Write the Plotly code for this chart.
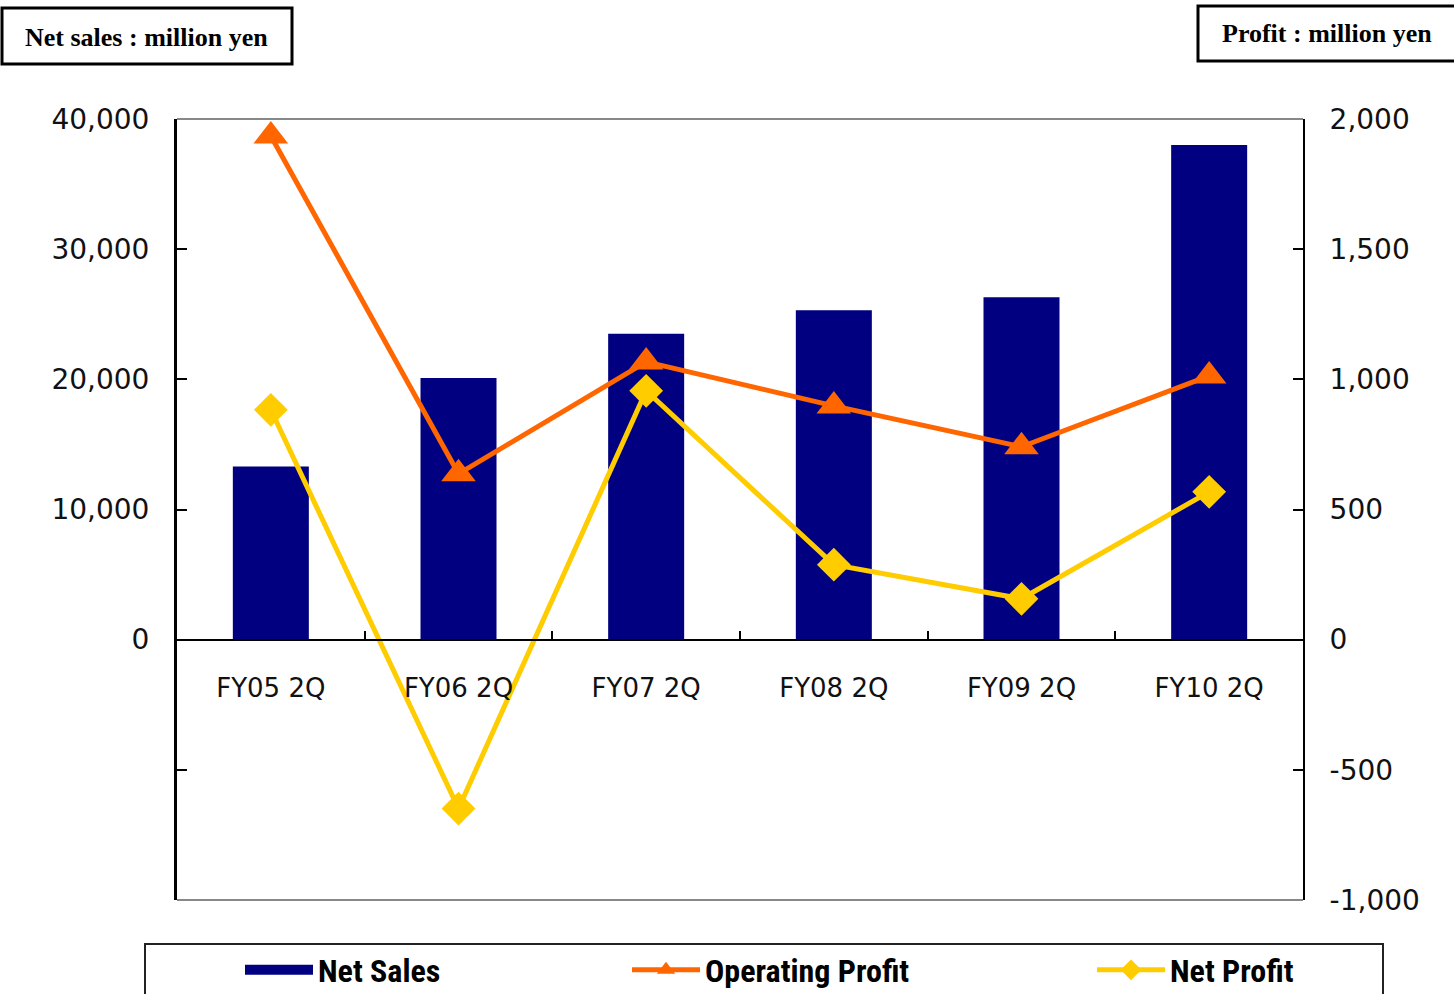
import plotly.graph_objects as go

categories = ["FY05 2Q", "FY06 2Q", "FY07 2Q", "FY08 2Q", "FY09 2Q", "FY10 2Q"]
net_sales = [13300, 20100, 23500, 25300, 26300, 38000]
operating_profit = [1935, 637, 1067, 898, 741, 1013]
net_profit = [883, -649, 956, 288, 157, 568]

left_tickvals = [-20000, -10000, 0, 10000, 20000, 30000, 40000]
left_ticktext = ["", "", "0", "10,000", "20,000", "30,000", "40,000"]
right_tickvals = [-1000, -500, 0, 500, 1000, 1500, 2000]
right_ticktext = ["-1,000", "-500", "0", "500", "1,000", "1,500", "2,000"]

W, H = 1454, 994
L, R, T, B = 177, 1303, 119, 900
pw, ph = R - L, B - T


def px(x):
    return (x - L) / pw


def py(y):
    return (B - y) / ph


def cx(x):
    return x / W


def cy(y):
    return 1 - y / H


tick_font = dict(family="DejaVu Sans", size=28, color="#111111")
legend_font = dict(family="Liberation Sans Narrow, Roboto Condensed, Arial Narrow, sans-serif",
                   size=32, color="black", weight="bold")

NAVY = "#000080"
ORANGE = "#FF6600"
YELLOW = "#FFCC00"

fig = go.Figure()
fig.add_trace(go.Bar(x=categories, y=net_sales, name="Net Sales", marker_color=NAVY,
                     marker_line_width=0, width=0.405, yaxis="y", showlegend=False,
                     legendgroup="sales"))
# legend entry for net sales drawn as a wide block (like the original legend key)
fig.add_trace(go.Scatter(x=[None], y=[None], name="Net Sales", mode="lines",
                         line=dict(color=NAVY, width=19), yaxis="y",
                         legendgroup="sales", legend="legend"))
fig.add_trace(go.Scatter(x=categories, y=operating_profit, name="Operating Profit", yaxis="y2",
                         mode="lines+markers", line=dict(color=ORANGE, width=5),
                         marker=dict(symbol="triangle-up", size=30, color=ORANGE),
                         legend="legend2"))
fig.add_trace(go.Scatter(x=categories, y=net_profit, name="Net Profit", yaxis="y2",
                         mode="lines+markers", line=dict(color=YELLOW, width=5),
                         marker=dict(symbol="diamond", size=26, color=YELLOW),
                         legend="legend3"))

shapes = [
    dict(type="line", xref="paper", yref="paper", x0=0, x1=1, y0=1, y1=1,
         line=dict(color="#888888", width=2)),
    dict(type="line", xref="paper", yref="paper", x0=0, x1=1, y0=0, y1=0,
         line=dict(color="#888888", width=2)),
    dict(type="rect", xref="paper", yref="paper", x0=px(2), x1=px(292), y0=py(64), y1=py(8),
         line=dict(color="black", width=3)),
    dict(type="rect", xref="paper", yref="paper", x0=px(1198), x1=px(1460), y0=py(61), y1=py(6),
         line=dict(color="black", width=3)),
    dict(type="rect", xref="paper", yref="paper", x0=px(145), x1=px(1383), y0=py(1010), y1=py(944),
         line=dict(color="#222222", width=2)),
]

annotations = [
    dict(text="<b>Net sales : million yen</b>", x=px(146), y=py(37), xref="paper", yref="paper",
         showarrow=False, xanchor="center", yanchor="middle",
         font=dict(family="Liberation Serif", size=26, color="black")),
    dict(text="<b>Profit : million yen</b>", x=px(1327), y=py(34), xref="paper", yref="paper",
         showarrow=False, xanchor="center", yanchor="middle",
         font=dict(family="Liberation Serif", size=26, color="black")),
]

legend_common = dict(orientation="h", yanchor="middle", xanchor="left", font=legend_font,
                     bgcolor="rgba(0,0,0,0)", borderwidth=0, itemwidth=68,
                     xref="container", yref="container")

fig.update_layout(
    width=W, height=H,
    margin=dict(l=L, r=W - R, t=T, b=H - B, autoexpand=False),
    paper_bgcolor="white", plot_bgcolor="white",
    shapes=shapes, annotations=annotations,
    showlegend=True,
    legend=dict(x=cx(240), y=cy(970), **legend_common),
    legend2=dict(x=cx(627), y=cy(970), **legend_common),
    legend3=dict(x=cx(1092), y=cy(970), **legend_common),
    xaxis=dict(type="category", range=[-0.5, 5.5], anchor="free", position=1 / 3,
               showline=True, linecolor="black", linewidth=2,
               ticks="inside", ticklen=8, tickwidth=2, tickcolor="black",
               tickson="boundaries", showgrid=False,
               tickfont=dict(family="DejaVu Sans", size=26, color="#111111"),
               ticklabelstandoff=25),
    yaxis=dict(range=[-20000, 40000], tickvals=left_tickvals, ticktext=left_ticktext,
               showline=True, linecolor="black", linewidth=3,
               ticks="inside", ticklen=10, tickwidth=2, tickcolor="black",
               showgrid=False, zeroline=False, tickfont=tick_font, ticklabelstandoff=19),
    yaxis2=dict(range=[-1000, 2000], tickvals=right_tickvals, ticktext=right_ticktext,
                overlaying="y", side="right",
                showline=True, linecolor="black", linewidth=2,
                ticks="inside", ticklen=10, tickwidth=2, tickcolor="black",
                showgrid=False, zeroline=False, tickfont=tick_font, ticklabelstandoff=19),
    bargap=0.6,
)

fig.write_html("out.html", config={"displayModeBar": False},
               post_script="document.body.style.margin='0';document.body.style.overflow='hidden';")
